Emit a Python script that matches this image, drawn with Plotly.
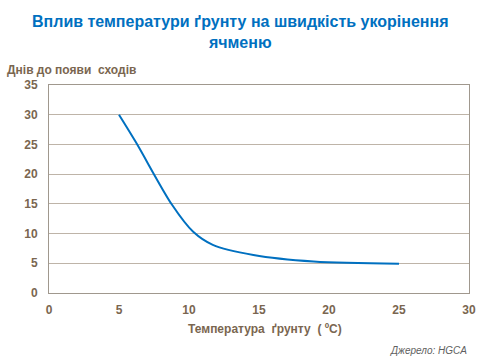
import plotly.graph_objects as go

temps = [5, 6.2, 8.8, 10.3, 11.7, 14.6, 18.9, 25]
days = [30, 25.4, 14.8, 10.3, 8.1, 6.4, 5.3, 4.93]

x_ticks = [0, 5, 10, 15, 20, 25, 30]
y_ticks = [0, 5, 10, 15, 20, 25, 30, 35]

title = "Вплив температури ґрунту на швидкість укорінення<br>ячменю"
y_title = "Днів до появи  сходів"
x_title = "Температура  ґрунту  ( ºC)"
source = "<i>Джерело: HGCA</i>"

txt = "#7A6650"
grid = "#BEB4A8"
axisc = "#A0988E"
FONT = "Liberation Sans, Arial, sans-serif"

fig = go.Figure()
fig.add_trace(go.Scatter(x=temps, y=days, mode="lines",
                         line=dict(color="#0070C0", width=2, shape="spline", smoothing=0.9),
                         hoverinfo="x+y"))

fig.update_layout(
    width=480, height=360,
    margin=dict(l=49, r=11, t=85, b=67, autoexpand=False),
    paper_bgcolor="white", plot_bgcolor="white",
    showlegend=False,
    font=dict(family=FONT, color=txt),
    xaxis=dict(range=[0, 30], tickvals=x_ticks, showgrid=False, zeroline=False,
               showline=True, linecolor=axisc, linewidth=1, mirror=True,
               ticks="", ticklabelstandoff=6, automargin=False,
               tickfont=dict(size=12, color=txt, weight="bold")),
    yaxis=dict(range=[0, 35], tickvals=y_ticks, showgrid=True, gridcolor=grid, gridwidth=1,
               zeroline=False, showline=True, linecolor=axisc, linewidth=1, mirror=True,
               ticks="", ticklabelstandoff=8, automargin=False,
               tickfont=dict(size=12, color=txt, weight="bold")),
    annotations=[
        dict(text="<b>" + title + "</b>", xref="paper", yref="paper", x=(240 - 49) / 420,
             y=(293 - 11) / 208, xanchor="center", yanchor="top", showarrow=False,
             font=dict(size=16, color="#0070C0")),
        dict(text="<b>" + y_title + "</b>", xref="paper", yref="paper", x=-44/420, y=1.03,
             xanchor="left", yanchor="bottom", showarrow=False, font=dict(size=12, color=txt)),
        dict(text="<b>" + x_title + "</b>", xref="paper", yref="paper", x=(265 - 49) / 420, y=-0.13,
             xanchor="center", yanchor="top", showarrow=False, font=dict(size=12, color=txt)),
        dict(text=source, xref="paper", yref="paper", x=1.0, y=-0.24,
             xanchor="right", yanchor="top", showarrow=False, font=dict(size=10, color="#5F5F5F")),
    ],
)

fig.write_html("out.html", config={"displayModeBar": False},
               post_script="document.body.style.margin='0';")
